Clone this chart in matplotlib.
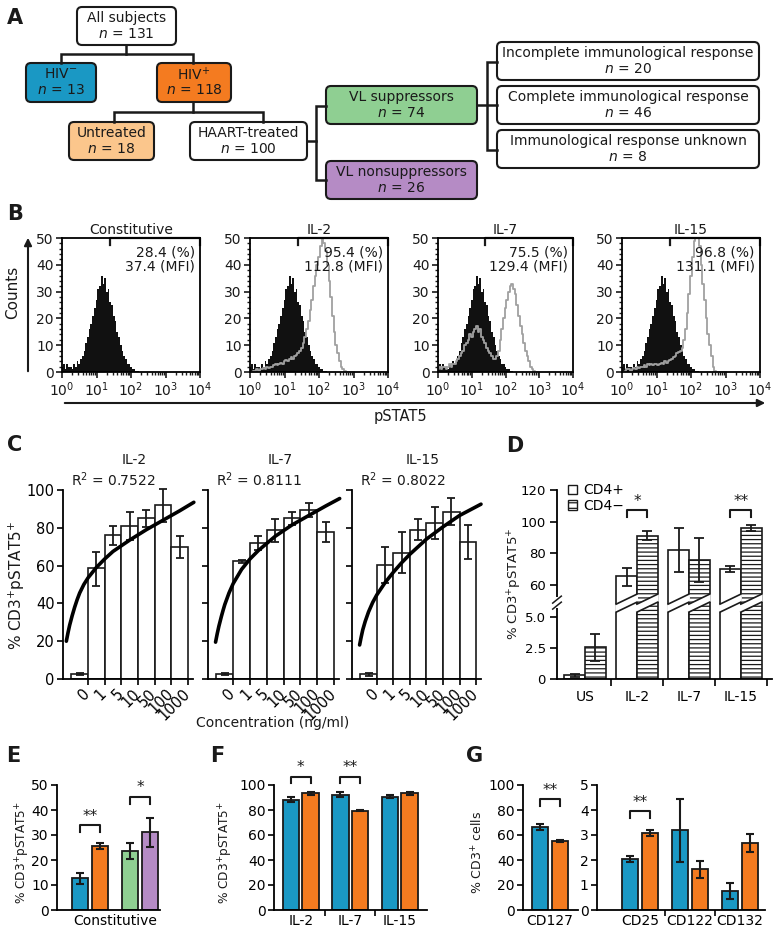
import numpy as np
import matplotlib.pyplot as plt
from matplotlib.patches import FancyBboxPatch, Polygon, Patch, Rectangle
from matplotlib.ticker import MultipleLocator, LogLocator, NullFormatter

plt.rcParams['font.family'] = ['DejaVu Sans']
plt.rcParams['mathtext.fontset'] = 'dejavusans'
plt.rcParams['font.size'] = 10
plt.rcParams['axes.linewidth'] = 1.3
plt.rcParams['xtick.major.width'] = 1.2
plt.rcParams['ytick.major.width'] = 1.2
plt.rcParams['xtick.minor.width'] = 1.0
plt.rcParams['ytick.minor.width'] = 1.0
plt.rcParams['xtick.major.size'] = 4
plt.rcParams['ytick.major.size'] = 4
plt.rcParams['hatch.linewidth'] = 0.9

BLUE = '#1a98c4'
ORANGE = '#f47b20'
GREEN = '#8fcf92'
PURPLE = '#b58bc5'
PEACH = '#fbc68c'
INK = '#1a1a1a'

# ---------------- data ----------------
# A: subject flowchart
flow_names = ['All subjects', 'HIV$^{-}$', 'HIV$^{+}$', 'Untreated', 'HAART-treated',
              'VL suppressors', 'VL nonsuppressors', 'Incomplete immunological response',
              'Complete immunological response', 'Immunological response unknown']
flow_n = [131, 13, 118, 18, 100, 74, 26, 20, 46, 8]
flow_fill = ['white', BLUE, ORANGE, PEACH, 'white', GREEN, PURPLE, 'white', 'white', 'white']

# B: pSTAT5 histograms (counts per log10 bin, bins 0.00 .. 3.00 step 0.05)
hist_titles = ['Constitutive', 'IL-2', 'IL-7', 'IL-15']
gate_pct = ['28.4', '95.4', '75.5', '96.8']
gate_mfi = ['37.4', '112.8', '129.4', '131.1']
hist_log10 = np.arange(61) * 0.05
unstim_counts = [2, 3, 1, 3, 2, 2, 1, 3, 2, 4,
                 3, 5, 6, 8, 11, 13, 16, 18, 21, 24,
                 27, 31, 32, 36, 33, 35, 30, 31, 26, 25,
                 21, 19, 15, 13, 10, 8, 6, 5, 3, 3,
                 2, 1, 1, 0.5, 0.3, 0, 0, 0, 0, 0,
                 0, 0, 0, 0, 0, 0, 0, 0, 0, 0, 0]
il2_counts = [0, 0, 0.5, 0.5, 1, 0.5, 1, 1, 1.5, 1,
              2, 1.5, 2, 2, 2.5, 3, 2.5, 3, 3.5, 3,
              4, 4.5, 4, 5, 5.5, 5, 6, 6.5, 7, 8,
              9, 11, 13, 16, 19, 23, 27, 32, 36, 40,
              43, 47, 50, 48, 45, 40, 34, 28, 21, 15,
              10, 7, 4, 2, 1, 0.5, 0, 0, 0, 0, 0]
il7_counts = [1, 2, 1, 2, 2, 1, 2, 3, 2, 3,
              3, 4, 5, 6, 7, 8, 10, 11, 12, 14,
              13, 15, 16, 17, 15, 16, 13, 12, 11, 9,
              8, 7, 6, 5, 5, 6, 8, 12, 16, 20,
              24, 27, 30, 32, 33, 31, 29, 25, 21, 17,
              14, 11, 8, 6, 4, 2, 1, 0.5, 0, 0, 0]
il15_counts = [0, 0, 0.5, 1, 1, 0.5, 1, 1.5, 1, 2,
               1.5, 2, 2, 2.5, 2, 3, 2.5, 3, 2.5, 3,
               3, 2.5, 3, 3.5, 3, 4, 3.5, 4, 4.5, 5,
               5.5, 6, 7, 7.5, 8, 9, 12, 16, 22, 29,
               36, 43, 49, 52, 51, 47, 40, 33, 27, 20,
               14, 10, 6, 2, 0.5, 0, 0, 0, 0, 0, 0]
stim_counts = [None, il2_counts, il7_counts, il15_counts]

# C: dose response
conc_labels = ['0', '1', '5', '10', '50', '100', '1000']
c_titles = ['IL-2', 'IL-7', 'IL-15']
c_r2 = ['0.7522', '0.8111', '0.8022']
c_mean = [[2.8, 58.5, 76.0, 81.0, 85.0, 92.3, 70.0],
          [2.5, 62.2, 72.0, 79.0, 85.3, 89.3, 77.8],
          [2.5, 60.3, 66.5, 79.0, 82.4, 88.6, 72.7]]
c_low = [[2.3, 49.3, 71.0, 73.6, 80.6, 83.3, 64.0],
         [2.0, 61.6, 68.5, 72.7, 81.5, 85.6, 72.4],
         [1.7, 50.7, 56.0, 73.6, 74.0, 81.5, 63.6]]
c_high = [[3.3, 67.4, 81.0, 88.5, 89.4, 100.3, 75.4],
          [3.0, 62.8, 75.7, 84.7, 88.6, 93.0, 83.3],
          [3.3, 70.0, 78.0, 84.5, 91.0, 95.6, 81.5]]
c_fit_x = [[-0.8, -0.7, -0.6, -0.45, -0.3, -0.15, 0, 0.25, 0.5, 1, 1.5, 2, 3, 4, 5, 6, 6.85],
           [-0.55, -0.45, -0.35, -0.2, -0.1, 0, 0.25, 0.5, 1, 1.5, 2, 3, 4, 5, 6, 6.84],
           [-0.54, -0.45, -0.35, -0.2, -0.1, 0, 0.25, 0.5, 1, 1.5, 2, 2.5, 3.5, 4.5, 5.5, 6.8]]
c_fit_y = [[20, 24.5, 28.5, 33.5, 38, 42, 45.5, 50, 53.5, 59, 63.5, 67.5, 73.5, 79, 84, 89, 93.5],
           [19.5, 24, 28, 33.2, 36.4, 39.4, 45.5, 50.5, 58, 63.5, 68, 75.5, 81.5, 86.5, 91.5, 95.5],
           [18, 22, 26, 30.5, 33, 35.5, 40.5, 44.5, 51, 56.5, 61.5, 66, 74, 80.5, 86.5, 92.5]]

# D: CD4+ vs CD4- T cells
d_groups = ['US', 'IL-2', 'IL-7', 'IL-15']
d_pos = [0.3, 65.7, 82.1, 69.9]
d_pos_low = [0.2, 59.4, 68.2, 68.4]
d_pos_high = [0.4, 70.5, 96.0, 71.6]
d_neg = [2.55, 91.0, 75.8, 96.0]
d_neg_low = [1.45, 88.4, 62.1, 94.3]
d_neg_high = [3.65, 94.3, 89.9, 97.7]

# E: constitutive pSTAT5 by group
e_vals = [12.8, 25.7, 23.7, 31.3]
e_low = [10.5, 24.5, 20.3, 25.2]
e_high = [14.9, 26.8, 27.0, 37.0]
e_colors = [BLUE, ORANGE, GREEN, PURPLE]

# F: cytokine-induced pSTAT5, HIV- vs HIV+
f_groups = ['IL-2', 'IL-7', 'IL-15']
f_neg = [88.0, 92.3, 90.7]
f_neg_low = [86.4, 90.4, 89.3]
f_neg_high = [90.1, 94.3, 92.0]
f_pos = [93.3, 79.5, 93.3]
f_pos_low = [92.2, 79.0, 92.2]
f_pos_high = [94.5, 80.2, 94.5]

# G: receptor expression
g1_groups = ['CD127']
g1_neg, g1_neg_low, g1_neg_high = [66.1], [64.0], [68.5]
g1_pos, g1_pos_low, g1_pos_high = [55.2], [54.1], [56.3]
g2_groups = ['CD25', 'CD122', 'CD132']
g2_neg = [2.04, 3.2, 0.77]
g2_neg_low = [1.92, 1.92, 0.43]
g2_neg_high = [2.16, 4.45, 1.08]
g2_pos = [3.08, 1.63, 2.67]
g2_pos_low = [2.95, 1.28, 2.32]
g2_pos_high = [3.22, 1.95, 3.03]

# ---------------- figure ----------------
W, H = 779, 933
fig = plt.figure(figsize=(W / 100, H / 100), dpi=100)


def px_axes(x0, y0, x1, y1):
    return fig.add_axes([x0 / W, 1 - y1 / H, (x1 - x0) / W, (y1 - y0) / H])


def errs(mean, low, high):
    mean = np.asarray(mean)
    return [mean - np.asarray(low), np.asarray(high) - mean]


def bracket(ax, x0, x1, y, drop, stars, fs=11):
    ax.plot([x0, x0, x1, x1], [y - drop, y, y, y - drop], color=INK, lw=1.5, clip_on=False)
    ax.annotate(stars, xy=((x0 + x1) / 2, y), xytext=(0, 1), textcoords='offset points',
                ha='center', va='bottom', fontsize=fs, color=INK, annotation_clip=False)


def clean(ax):
    ax.spines['top'].set_visible(False)
    ax.spines['right'].set_visible(False)


bg = fig.add_axes([0, 0, 1, 1])
bg.set_xlim(0, W)
bg.set_ylim(H, 0)
bg.axis('off')

# panel letters
for letter, (lx, ly) in zip('ABCDEFG', [(15, 18), (15, 214), (15, 445), (515, 446),
                                        (13, 756), (217, 756), (475, 756)]):
    bg.text(lx, ly, letter, fontsize=15, fontweight='bold', ha='center', va='center', color=INK)

# ---- A ----
flow_boxes = [(77, 7, 176, 45), (26, 63, 96, 102), (157, 63, 231, 102), (69, 122, 154, 160),
              (190, 122, 307, 160), (326, 86, 477, 124), (326, 161, 477, 199),
              (497, 42, 759, 80), (497, 86, 759, 124), (497, 130, 759, 168)]
for (x0, y0, x1, y1), name, n, fc in zip(flow_boxes, flow_names, flow_n, flow_fill):
    bg.add_patch(FancyBboxPatch((x0, y0), x1 - x0, y1 - y0,
                                boxstyle='round,pad=0,rounding_size=5',
                                fc=fc, ec=INK, lw=1.5))
    cx, cy = (x0 + x1) / 2, (y0 + y1) / 2
    bg.text(cx, cy - 8, name, ha='center', va='center', fontsize=10, color=INK)
    bg.text(cx, cy + 8, f'$n$ = {n}', ha='center', va='center', fontsize=10, color=INK)

connectors = [[(126, 45), (126, 54)], [(61, 63), (61, 54), (193, 54), (193, 63)],
              [(193, 102), (193, 112)], [(114, 122), (114, 112), (263, 112), (263, 122)],
              [(307, 141), (316, 141)], [(326, 106), (316, 106), (316, 180), (326, 180)],
              [(477, 105), (497, 105)], [(497, 62), (487, 62), (487, 150), (497, 150)]]
for seg in connectors:
    xs, ys = zip(*seg)
    bg.plot(xs, ys, color=INK, lw=1.8, solid_joinstyle='miter')

# ---- B ----
b_axes = [(62, 238, 200, 372), (250, 238, 388, 372), (438, 238, 573, 372), (622, 238, 760, 372)]
for i, box in enumerate(b_axes):
    ax = px_axes(*box)
    xv = 10 ** hist_log10
    ax.fill_between(xv, unstim_counts, step='mid', color='#111111', lw=0)
    if stim_counts[i] is not None:
        ax.plot(xv, stim_counts[i], drawstyle='steps-mid', color='#a0a0a0', lw=1.3)
    ax.set_xscale('log')
    ax.set_xlim(1, 1e4)
    ax.set_ylim(0, 50)
    ax.xaxis.set_major_locator(LogLocator(base=10, numticks=10))
    ax.xaxis.set_minor_locator(LogLocator(base=10, subs=np.arange(2, 10), numticks=10))
    ax.xaxis.set_minor_formatter(NullFormatter())
    ax.yaxis.set_major_locator(MultipleLocator(10))
    ax.yaxis.set_minor_locator(MultipleLocator(2))
    ax.tick_params(which='both', top=False, right=False, labelsize=10, pad=2, colors=INK)
    ax.tick_params(which='minor', length=2)
    ax.set_title(hist_titles[i], fontsize=10, pad=3, color=INK)
    g0 = 10 ** 1.4
    ax.plot([g0, g0, 1e4, 1e4], [47.3, 50, 50, 47.3], color=INK, lw=1.6, clip_on=False)
    ax.text(10 ** 3.85, 44.5, f'{gate_pct[i]} (%)', ha='right', va='center', fontsize=10, color=INK)
    ax.text(10 ** 3.85, 39.2, f'{gate_mfi[i]} (MFI)', ha='right', va='center', fontsize=10, color=INK)

bg.text(13, 292, 'Counts', rotation=90, ha='center', va='center', fontsize=11, color=INK)
bg.annotate('', xy=(28, 235), xytext=(28, 374),
            arrowprops=dict(arrowstyle='-|>', lw=1.5, color=INK, mutation_scale=11))
bg.annotate('', xy=(768, 403), xytext=(62, 403),
            arrowprops=dict(arrowstyle='-|>', lw=1.5, color=INK, mutation_scale=11))
bg.text(400, 416, 'pSTAT5', ha='center', va='center', fontsize=10.5, color=INK)

# ---- C ----
c_axes = [(63, 490, 193, 679), (208, 490, 339, 679), (352, 490, 481, 679)]
for i, box in enumerate(c_axes):
    ax = px_axes(*box)
    xs = np.arange(len(conc_labels))
    ax.bar(xs, c_mean[i], width=1.0, color='white', edgecolor=INK, lw=1.2)
    ax.errorbar(xs, c_mean[i], yerr=errs(c_mean[i], c_low[i], c_high[i]), fmt='none',
                ecolor=INK, elinewidth=1.3, capsize=3, capthick=1.3, clip_on=False)
    ax.plot(c_fit_x[i], c_fit_y[i], color='black', lw=2.6, solid_capstyle='round',
            solid_joinstyle='round', zorder=4, clip_on=False)
    ax.set_xlim(-1, 6.8)
    ax.set_ylim(0, 100)
    clean(ax)
    ax.set_xticks(xs + 0.5)
    ax.set_xticklabels([])
    ax.set_xticks(xs + 0.15, minor=True)
    ax.set_xticklabels(conc_labels, minor=True, rotation=45, ha='right', va='top',
                       rotation_mode='anchor', fontsize=10.5)
    ax.tick_params(axis='x', which='minor', length=0, pad=5)
    ax.set_yticks([0, 20, 40, 60, 80, 100])
    ax.tick_params(axis='y', labelsize=10.5, pad=2)
    if i > 0:
        ax.set_yticklabels([])
    ax.text(0.55, 1.16, c_titles[i], transform=ax.transAxes, ha='center', va='center',
            fontsize=10, color=INK)
    ax.text(0.06, 1.055, f'R$^2$ = {c_r2[i]}', transform=ax.transAxes, ha='left',
            va='center', fontsize=10, color=INK)

bg.text(17, 585, '% CD3$^{+}$pSTAT5$^{+}$', rotation=90, ha='center', va='center',
        fontsize=11, color=INK)
bg.text(273, 723, 'Concentration (ng/ml)', ha='center', va='center', fontsize=10, color=INK)

# ---- D (broken axis through a piecewise scale) ----
d_knots = [-100, 0, 5.5, 55, 120, 400]
d_px = [-1247, 0, 68.6, 86.4, 189.3, 632.5]


def d_fwd(y):
    return np.interp(y, d_knots, d_px)


def d_inv(p):
    return np.interp(p, d_px, d_knots)


ax = px_axes(557, 490, 772, 679)
ax.set_yscale('function', functions=(d_fwd, d_inv))
xs = np.arange(len(d_groups))
bw = 0.4
ax.bar(xs - bw / 2, d_pos, width=bw, color='white', edgecolor=INK, lw=1.2)
ax.bar(xs + bw / 2, d_neg, width=bw, color='white', edgecolor=INK, lw=1.2, hatch='----')
ax.errorbar(xs - bw / 2, d_pos, yerr=errs(d_pos, d_pos_low, d_pos_high), fmt='none',
            ecolor=INK, elinewidth=1.3, capsize=3.5, capthick=1.3)
ax.errorbar(xs + bw / 2, d_neg, yerr=errs(d_neg, d_neg_low, d_neg_high), fmt='none',
            ecolor=INK, elinewidth=1.3, capsize=3.5, capthick=1.3)
ax.set_ylim(0, 120)
ax.set_xlim(-0.54, 3.6)
clean(ax)
# break band over the tall bars
for xc, h in list(zip(xs - bw / 2, d_pos)) + list(zip(xs + bw / 2, d_neg)):
    if h < 10:
        continue
    xl, xr = xc - bw / 2, xc + bw / 2
    ax.add_patch(Polygon([(xl - 0.02, d_inv(66.6)), (xr + 0.02, d_inv(77.4)),
                          (xr + 0.02, d_inv(85.4)), (xl - 0.02, d_inv(74.6))],
                         closed=True, fc='white', ec='none', zorder=2.6))
    ax.plot([xl, xr], [d_inv(67), d_inv(77)], color=INK, lw=1.2, zorder=2.7)
    ax.plot([xl, xr], [d_inv(75), d_inv(85)], color=INK, lw=1.2, zorder=2.7)
ax.add_patch(Rectangle((-0.03, 71 / 189.3), 0.06, 11 / 189.3, transform=ax.transAxes,
                       fc='white', ec='none', clip_on=False, zorder=5))
for y0 in (70, 76):
    ax.plot([-0.02, 0.02], [y0 / 189.3, (y0 + 7) / 189.3], transform=ax.transAxes,
            color=INK, lw=1.1, clip_on=False, zorder=6)
ax.set_yticks([0, 2.5, 5, 60, 80, 100, 120])
ax.set_yticklabels(['0', '2.5', '5.0', '60', '80', '100', '120'])
ax.tick_params(axis='y', labelsize=9.5, pad=3, length=5)
ax.set_xticks(xs + 0.5)
ax.set_xticklabels([])
ax.tick_params(axis='x', which='major', length=5)
ax.set_xticks(xs, minor=True)
ax.set_xticklabels(d_groups, minor=True, fontsize=10)
ax.tick_params(axis='x', which='minor', length=0, pad=8)
bracket(ax, 1 - bw / 2, 1 + bw / 2, 107.4, 4.4, '*', fs=11)
bracket(ax, 3 - bw / 2, 3 + bw / 2, 107.4, 4.4, '**', fs=11)
ax.legend(handles=[Patch(fc='white', ec=INK, lw=1.0, label='CD4+'),
                   Patch(fc='white', ec=INK, lw=1.0, hatch='---', label='CD4\u2212')],
          loc='upper left', bbox_to_anchor=(0.05, 1.035), frameon=False, fontsize=10,
          handlelength=0.7, handleheight=0.7, handletextpad=0.4, labelspacing=0.1,
          borderpad=0, borderaxespad=0)
bg.text(515, 584, '% CD3$^{+}$pSTAT5$^{+}$', rotation=90, ha='center', va='center',
        fontsize=9.5, color=INK)

# ---- E ----
ax = px_axes(57, 785, 160, 910)
e_x = [0, 1, 2.5, 3.5]
ax.bar(e_x, e_vals, width=0.82, color=e_colors, edgecolor=INK, lw=1.3)
ax.errorbar(e_x, e_vals, yerr=errs(e_vals, e_low, e_high), fmt='none', ecolor=INK,
            elinewidth=1.5, capsize=3, capthick=1.5)
ax.set_xlim(-1.15, 4.0)
ax.set_ylim(0, 50)
clean(ax)
ax.set_yticks([0, 10, 20, 30, 40, 50])
ax.set_xticks([1.75])
ax.set_xticklabels(['Constitutive'])
ax.tick_params(axis='x', length=0, pad=3, labelsize=10)
ax.tick_params(axis='y', labelsize=10, pad=2)
bracket(ax, 0, 1, 34.0, 2.7, '**')
bracket(ax, 2.5, 3.5, 45.3, 2.9, '*')
bg.text(23, 852, '% CD3$^{+}$pSTAT5$^{+}$', rotation=90, ha='center', va='center',
        fontsize=8.7, color=INK)

# ---- F ----
ax = px_axes(274, 785, 427, 910)
xs = np.arange(len(f_groups))
off, bw = 0.2, 0.33
ax.bar(xs - off, f_neg, width=bw, color=BLUE, edgecolor=INK, lw=1.3)
ax.bar(xs + off, f_pos, width=bw, color=ORANGE, edgecolor=INK, lw=1.3)
ax.errorbar(xs - off, f_neg, yerr=errs(f_neg, f_neg_low, f_neg_high), fmt='none',
            ecolor=INK, elinewidth=1.5, capsize=3, capthick=1.5)
ax.errorbar(xs + off, f_pos, yerr=errs(f_pos, f_pos_low, f_pos_high), fmt='none',
            ecolor=INK, elinewidth=1.5, capsize=3, capthick=1.5)
ax.set_xlim(-0.54, 2.55)
ax.set_ylim(0, 100)
clean(ax)
ax.set_yticks([0, 20, 40, 60, 80, 100])
ax.set_xticks(xs[:-1] + 0.5)
ax.set_xticklabels([])
ax.set_xticks(xs, minor=True)
ax.set_xticklabels(f_groups, minor=True, fontsize=10)
ax.tick_params(axis='x', which='minor', length=0, pad=3)
ax.tick_params(axis='y', labelsize=10, pad=2)
bracket(ax, -off, off, 106.7, 4.8, '*')
bracket(ax, 1 - off, 1 + off, 106.7, 4.8, '**')
bg.text(226, 852, '% CD3$^{+}$pSTAT5$^{+}$', rotation=90, ha='center', va='center',
        fontsize=8.7, color=INK)

# ---- G ----
ax = px_axes(523, 785, 578, 910)
ax.bar([-off], g1_neg, width=bw, color=BLUE, edgecolor=INK, lw=1.3)
ax.bar([off], g1_pos, width=bw, color=ORANGE, edgecolor=INK, lw=1.3)
ax.errorbar([-off], g1_neg, yerr=errs(g1_neg, g1_neg_low, g1_neg_high), fmt='none',
            ecolor=INK, elinewidth=1.5, capsize=3, capthick=1.5)
ax.errorbar([off], g1_pos, yerr=errs(g1_pos, g1_pos_low, g1_pos_high), fmt='none',
            ecolor=INK, elinewidth=1.5, capsize=3, capthick=1.5)
ax.set_xlim(-0.54, 0.56)
ax.set_ylim(0, 100)
clean(ax)
ax.set_yticks([0, 20, 40, 60, 80, 100])
ax.set_xticks([0])
ax.set_xticklabels(g1_groups)
ax.tick_params(axis='x', length=0, pad=3, labelsize=10)
ax.tick_params(axis='y', labelsize=10, pad=2)
bracket(ax, -off, off, 88.5, 5.3, '**')
bg.text(478, 852, '% CD3$^{+}$ cells', rotation=90, ha='center', va='center',
        fontsize=9, color=INK)

ax = px_axes(597, 785, 765, 910)
xs = np.arange(len(g2_groups))
ax.bar(xs - off, g2_neg, width=bw, color=BLUE, edgecolor=INK, lw=1.3)
ax.bar(xs + off, g2_pos, width=bw, color=ORANGE, edgecolor=INK, lw=1.3)
ax.errorbar(xs - off, g2_neg, yerr=errs(g2_neg, g2_neg_low, g2_neg_high), fmt='none',
            ecolor=INK, elinewidth=1.5, capsize=3, capthick=1.5)
ax.errorbar(xs + off, g2_pos, yerr=errs(g2_pos, g2_pos_low, g2_pos_high), fmt='none',
            ecolor=INK, elinewidth=1.5, capsize=3, capthick=1.5)
ax.set_xlim(-0.86, 2.5)
ax.set_ylim(0, 5)
clean(ax)
ax.set_yticks([0, 1, 2, 3, 4, 5])
ax.set_xticks(xs[:-1] + 0.5)
ax.set_xticklabels([])
ax.set_xticks(xs, minor=True)
ax.set_xticklabels(g2_groups, minor=True, fontsize=10)
ax.tick_params(axis='x', which='minor', length=0, pad=3)
ax.tick_params(axis='y', labelsize=10, pad=2)
bracket(ax, -off, off, 3.96, 0.29, '**')

fig.savefig('out.png', dpi=100)
